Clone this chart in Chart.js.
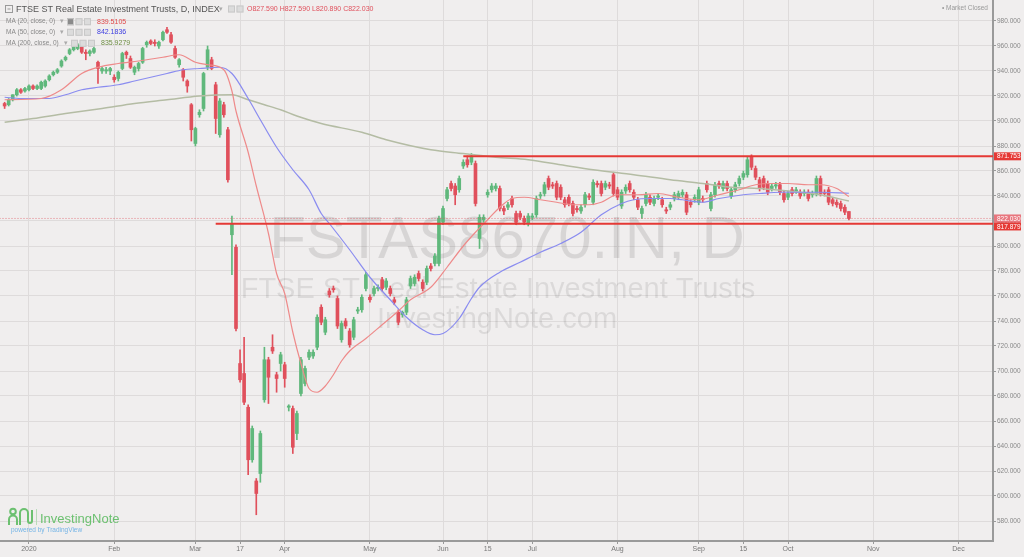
<!DOCTYPE html>
<html>
<head>
<meta charset="utf-8">
<script src="https://cdn.jsdelivr.net/npm/chart.js@4.4.1/dist/chart.umd.min.js"></script>
<style>
html, body { margin: 0; padding: 0; background: #f0eeee; overflow: hidden; }
canvas { display: block; }
</style>
</head>
<body>
<canvas id="grafica" width="1024" height="557"></canvas>
<script>
// Índice de la primera vela (23 dic 2019 = -6, 2 ene 2020 = 0), en días de bolsa
const primerIndice = -6;

const apertura = [
  914,913,917,921,925,924,925,928,926,926,
  928,933,937,939,944,949,954,957,958,960,
  955,954,955,947,940,940,940,935,934,942,
  955,950,939,942,947,961,964,963,960,965,
  973,969,958,945,941,932,913,882,905,910,
  943,949,929,889,913,893,809,799,706,698,
  671,629,612,618,677,709,719,697,706,705,
  671,670,650,682,690,711,712,719,751,731,
  764,766,758,725,740,732,727,748,749,766,
  759,762,766,773,767,766,757,747,745,747,
  768,770,778,771,771,784,786,786,819,838,
  850,848,845,864,869,867,866,806,821,841,
  845,846,846,830,831,838,826,826,822,818,
  823,825,840,842,854,849,850,847,837,839,
  834,830,828,833,840,835,850,850,847,849,
  857,845,832,844,850,843,837,826,834,839,
  834,839,837,829,831,838,839,841,841,835,
  837,835,838,850,830,841,850,846,850,840,
  845,850,855,857,871,862,853,854,850,846,
  848,849,842,839,845,844,843,842,843,841,
  842,854,843,845,837,835,834,831,827.59
];
const maximo = [
  915,918,921,926,926,927,929,929,929,932,
  933,937,940,942,949,952,958,960,962,961,
  957,957,959,948,943,943,943,937,940,955,
  956,952,944,947,959,964,965,965,964,972,
  975,971,960,950,942,933,914,895,909,939,
  960,951,931,918,915,895,824,801,717,727,
  673,656,614,652,719,711,729,699,715,707,
  673,672,668,711,704,717,717,745,753,743,
  766,768,760,740,742,734,743,751,761,779,
  761,768,769,775,774,768,759,749,748,759,
  776,777,780,773,784,786,794,824,832,847,
  852,850,856,869,872,874,868,825,825,845,
  850,850,848,832,835,840,828,828,824,826,
  826,840,843,851,856,851,852,849,839,841,
  836,832,833,843,842,853,852,852,852,851,
  859,847,845,849,852,845,839,832,843,841,
  840,842,839,831,835,843,844,845,843,837,
  841,847,840,852,843,851,852,852,852,847,
  851,856,860,871,873,864,855,856,852,850,
  851,851,844,844,847,847,845,845,845,844,
  856,856,845,847,839,837,836,833,827.59
];
const minimo = [
  910,912,916,920,922,923,924,925,925,925,
  927,932,936,938,943,948,953,956,957,954,
  949,952,954,930,938,938,937,931,932,941,
  950,942,937,940,946,959,961,960,958,964,
  970,962,950,943,932,923,884,880,903,908,
  941,941,890,887,903,851,777,732,691,673,
  617,627,585,611,675,674,714,683,700,687,
  668,634,645,680,688,709,710,717,737,729,
  759,763,734,723,734,719,725,746,747,764,
  755,760,764,764,765,760,753,737,743,745,
  766,768,772,764,769,780,784,784,817,836,
  844,833,843,862,863,865,832,798,819,839,
  843,844,828,825,829,831,817,821,817,816,
  821,823,838,840,845,846,837,837,831,832,
  824,827,826,831,837,833,847,840,845,846,
  840,837,830,842,843,837,829,822,832,833,
  832,837,831,826,829,836,837,839,825,831,
  835,833,835,843,828,839,846,844,844,838,
  843,848,853,855,861,853,844,845,841,844,
  846,841,835,837,840,842,838,840,836,839,
  840,840,840,833,832,831,828,825,820.89
];
const cierre = [
  912,917,921,925,923,926,928,926,928,931,
  932,936,939,941,948,951,957,959,961,955,
  954,956,958,942,942,941,942,933,939,954,
  953,943,943,946,958,963,962,962,963,971,
  971,963,951,949,935,928,893,894,907,938,
  957,942,902,916,905,853,818,734,693,675,
  629,654,602,650,709,695,716,694,713,694,
  672,639,666,709,702,715,715,743,739,741,
  761,765,736,738,736,721,741,749,759,777,
  757,766,767,766,772,762,755,739,747,757,
  774,775,774,766,782,782,792,822,830,845,
  846,841,854,867,865,872,834,823,823,843,
  848,848,830,828,833,833,819,823,819,824,
  824,838,841,849,847,848,839,839,833,834,
  826,829,831,841,839,851,849,842,850,848,
  842,839,843,847,845,839,831,830,841,835,
  838,840,833,828,833,841,842,843,827,833,
  839,845,837,845,841,849,848,850,846,845,
  849,854,858,869,863,855,846,847,843,848,
  849,843,837,842,842,845,840,843,838,842,
  854,842,842,835,834,833,830,827,822.03
];

// Medias móviles (índice de día, valor)
const ma20Idx = [-6,3,8,13,17,22,27,33,37,41,44,48,50,51,54,56,59,61,63,65,67,69,71,73,75,77,79,83,87,91,94,99,103,107,110,113,116,119,122,126,130,134,138,141,145,150,155,160,165,170,175,179,183,187,192,195,199,202];
const ma20Val = [917,918,925,938,943,946,948,951,953,947,945,941,924,908,875,848,810,778,762,731,706,686,683,688,697,708,716,726,737,748,757,767,783,800,811,821,831,838,839,837,835,833,833,835,841,841,842,839,837,841,845,849,850,850,849,849,846,839.51];
const ma50Idx = [-6,-2,5,9,13,17,22,26,30,34,38,42,47,50,54,57,61,65,69,72,74,79,84,89,93,97,100,102,106,109,111,116,121,126,131,136,141,146,149,153,158,161,166,170,176,180,185,190,195,202];
const ma50Val = [919,918,918,921,925,927,929,932,935,938,941,942,943,938,918,901,879,861,845,826,818,797,775,757,743,733,729,730,742,758,767,779,787,795,802,811,825,834,837,838,838,837,835,838,841,842,843,843,843,842.18];
const ma200Idx = [-6,1,9,18,26,34,42,50,54,58,62,66,72,82,88,99,107,115,123,131,139,149,158,166,173,180,190,195,202];
const ma200Val = [899,902,906,910,914,917,920,921,917,913,909,904,898,891,885,877,874,871,869,865,861,857,853,850,847,846,843,841,835.93];

// Líneas horizontales dibujadas (valor y día donde empiezan)
const nivelValor = [871.753, 817.879];
const nivelInicio = [107, 46];
const ultimoPrecio = 822.030;

// Ejes
const xTickIdx = [0,21,41,52,63,84,102,113,124,145,165,176,187,208,229];
const xTickTexto = ['2020','Feb','Mar','17','Apr','May','Jun','15','Jul','Aug','Sep','15','Oct','Nov','Dec'];
const yTicks = [580,600,620,640,660,680,700,720,740,760,780,800,820,840,860,880,900,920,940,960,980];

const verde = '#60b87c';
const rojo = '#e0505c';
const fondo = '#f0eeee';
const rejilla = '#dedbdb';
const fuente = '"Liberation Sans", Arial, sans-serif';

const dias = cierre.map((_, k) => k + primerIndice);
const colores = cierre.map((c, k) => c >= apertura[k] ? verde : rojo);

const puntos = (idx, val) => idx.map((x, k) => ({ x: x, y: val[k] }));

const datasets = [
  {
    type: 'bar', label: 'mechas', order: 9, grouped: false,
    data: dias.map((x, k) => ({ x: x, y: [minimo[k], maximo[k]] })),
    backgroundColor: colores, barThickness: 1, borderWidth: 0
  },
  {
    type: 'bar', label: 'cuerpos', order: 8, grouped: false,
    data: dias.map((x, k) => ({ x: x, y: [apertura[k], cierre[k]] })),
    backgroundColor: colores, barThickness: 3, borderWidth: 0, minBarLength: 1
  },
  { type: 'line', label: 'MA200', order: 5, data: puntos(ma200Idx, ma200Val), borderColor: '#b4bca4', borderWidth: 1.5, pointRadius: 0, cubicInterpolationMode: 'monotone' },
  { type: 'line', label: 'MA50', order: 4, data: puntos(ma50Idx, ma50Val), borderColor: '#8a8cf0', borderWidth: 1.2, pointRadius: 0, cubicInterpolationMode: 'monotone' },
  { type: 'line', label: 'MA20', order: 3, data: puntos(ma20Idx, ma20Val), borderColor: '#ee8a8a', borderWidth: 1.2, pointRadius: 0, cubicInterpolationMode: 'monotone' },
  { type: 'line', label: 'ultimo', order: 2, data: [{ x: -8, y: ultimoPrecio }, { x: 240, y: ultimoPrecio }], borderColor: 'rgba(225,80,90,0.7)', borderWidth: 1, borderDash: [1, 2], pointRadius: 0 }
];
nivelValor.forEach((v, k) => {
  datasets.push({ type: 'line', label: 'nivel' + k, order: 1, data: [{ x: nivelInicio[k], y: v }, { x: 240, y: v }], borderColor: '#e53935', borderWidth: 2, pointRadius: 0 });
});

const pluginFondo = {
  id: 'fondo',
  beforeDraw(chart) {
    const c = chart.ctx;
    c.save();
    c.fillStyle = fondo;
    c.fillRect(0, 0, chart.width, chart.height);
    c.restore();
  }
};

const pluginMarca = {
  id: 'marcaAgua',
  beforeDatasetsDraw(chart) {
    const c = chart.ctx;
    c.save();
    c.textAlign = 'center';
    c.textBaseline = 'alphabetic';
    c.fillStyle = 'rgba(0,0,0,0.1)';
    c.font = '60px ' + fuente;
    c.fillText('FSTAS8670.IN, D', 507, 258);
    c.fillStyle = 'rgba(0,0,0,0.085)';
    c.font = '29px ' + fuente;
    c.fillText('FTSE ST Real Estate Investment Trusts', 498, 298);
    c.fillText('InvestingNote.com', 497, 328);
    c.restore();
  }
};

function iconos(c, x, y, n, lleno) {
  for (let k = 0; k < n; k++) {
    const xx = x + k * 8.5;
    c.fillStyle = (lleno && k === 0) ? '#8a8a8a' : '#dcdcdc';
    c.fillRect(xx, y - 3.5, 7, 7);
    c.strokeStyle = '#c8c8c8';
    c.strokeRect(xx + 0.5, y - 3, 6, 6);
  }
}

const pluginTextos = {
  id: 'textos',
  afterDraw(chart) {
    const c = chart.ctx;
    const ey = chart.scales.y;
    c.save();
    c.textBaseline = 'middle';

    // etiquetas de precio en el eje derecho
    const etiquetas = [
      { v: nivelValor[0], col: '#e53935' },
      { v: ultimoPrecio, col: '#e8767e' },
      { v: nivelValor[1], col: '#e53935' }
    ];
    let fondoPrevio = -100;
    c.font = '6.5px ' + fuente;
    etiquetas.forEach(e => {
      let yy = ey.getPixelForValue(e.v) - 4;
      if (yy < fondoPrevio) yy = fondoPrevio;
      c.fillStyle = e.col;
      c.fillRect(994, yy, 27, 8);
      c.fillStyle = '#ffffff';
      c.fillText(e.v.toFixed(3), 997, yy + 4.3);
      fondoPrevio = yy + 8;
    });

    // título
    c.strokeStyle = '#9a9a9a';
    c.lineWidth = 1;
    c.strokeRect(5.5, 5.5, 7, 7);
    c.beginPath(); c.moveTo(7.5, 9); c.lineTo(10.5, 9); c.stroke();
    c.font = '9px ' + fuente;
    c.fillStyle = '#555555';
    c.fillText('FTSE ST Real Estate Investment Trusts, D, INDEX', 16, 9.5);
    c.fillStyle = '#aaaaaa';
    c.font = '7px ' + fuente;
    c.fillText('▾', 219, 9.5);
    iconos(c, 228, 9, 2, false);
    c.font = '7px ' + fuente;
    let x = 247;
    [['O', '827.590'], ['H', '827.590'], ['L', '820.890'], ['C', '822.030']].forEach(p => {
      c.fillStyle = '#e0505c';
      c.fillText(p[0] + p[1], x, 9.5);
      x += c.measureText(p[0] + p[1] + ' ').width;
    });

    // filas de medias móviles
    const filas = [
      ['MA (20, close, 0)', '839.5105', '#e04848', 21.7, 67, true],
      ['MA (50, close, 0)', '842.1836', '#3c3ce0', 32.3, 67, false],
      ['MA (200, close, 0)', '835.9279', '#6f8f45', 43.3, 71, false]
    ];
    filas.forEach(f => {
      c.font = '6.5px ' + fuente;
      c.fillStyle = '#888888';
      c.fillText(f[0], 6, f[3]);
      c.fillStyle = '#aaaaaa';
      c.fillText('▾', f[4] - 7, f[3]);
      iconos(c, f[4], f[3], 3, f[5]);
      c.font = '7px ' + fuente;
      c.fillStyle = f[2];
      c.fillText(f[1], f[4] + 30, f[3]);
    });

    // mercado cerrado
    c.font = '6.5px ' + fuente;
    c.fillStyle = '#999999';
    c.fillText('• Market Closed', 942, 8);

    // logo InvestingNote
    const verdeLogo = '#6cc070';
    c.strokeStyle = verdeLogo;
    c.lineWidth = 2;
    c.beginPath(); c.arc(13, 511.5, 2.8, 0, Math.PI * 2); c.stroke();
    c.beginPath(); c.moveTo(9, 525); c.lineTo(9, 519.5); c.arc(13, 519.5, 4, Math.PI, 0); c.lineTo(17, 525); c.stroke();
    c.beginPath(); c.moveTo(20, 525); c.lineTo(20, 513); c.arc(24, 513, 4, Math.PI, 0); c.lineTo(28, 521); c.arc(30, 521, 2, Math.PI, 0, true); c.lineTo(32, 510); c.stroke();
    c.lineWidth = 1;
    c.strokeStyle = '#b9dcb9';
    c.beginPath(); c.moveTo(36.5, 509); c.lineTo(36.5, 525); c.stroke();
    c.fillStyle = verdeLogo;
    c.font = '13px ' + fuente;
    c.textBaseline = 'alphabetic';
    c.fillText('InvestingNote', 40, 523);
    c.fillStyle = '#74b4e6';
    c.font = '6.5px ' + fuente;
    c.fillText('powered by TradingView', 11, 532);
    c.restore();
  }
};

new Chart(document.querySelector('#grafica'), {
  type: 'bar',
  data: { datasets: datasets },
  options: {
    responsive: false,
    animation: false,
    devicePixelRatio: 1,
    layout: { padding: 0 },
    plugins: { legend: { display: false }, tooltip: { enabled: false } },
    scales: {
      x: {
        type: 'linear',
        min: -7.14,
        max: 237.5,
        offset: false,
        grid: { color: rejilla, offset: false, tickLength: 3, tickColor: '#999' },
        border: { color: '#9a9a9a', width: 2 },
        afterBuildTicks: (eje) => { eje.ticks = xTickIdx.map(v => ({ value: v })); },
        afterFit: (eje) => { eje.height = 16; eje.paddingLeft = 0; eje.paddingRight = 0; },
        ticks: {
          autoSkip: false, maxRotation: 0, padding: 1,
          color: '#777777', font: { size: 7, family: fuente },
          callback: (v, i) => xTickTexto[i]
        }
      },
      y: {
        position: 'right',
        min: 564,
        max: 996.8,
        grid: { color: rejilla, tickLength: 3, tickColor: '#999' },
        border: { color: '#9a9a9a', width: 2 },
        afterBuildTicks: (eje) => { eje.ticks = yTicks.map(v => ({ value: v })); },
        afterFit: (eje) => { eje.width = 31; eje.paddingTop = 0; eje.paddingBottom = 0; },
        ticks: {
          padding: 1,
          color: '#888888', font: { size: 6.5, family: fuente },
          callback: (v) => Number(v).toFixed(3)
        }
      }
    }
  },
  plugins: [pluginFondo, pluginMarca, pluginTextos]
});
</script>
</body>
</html>
